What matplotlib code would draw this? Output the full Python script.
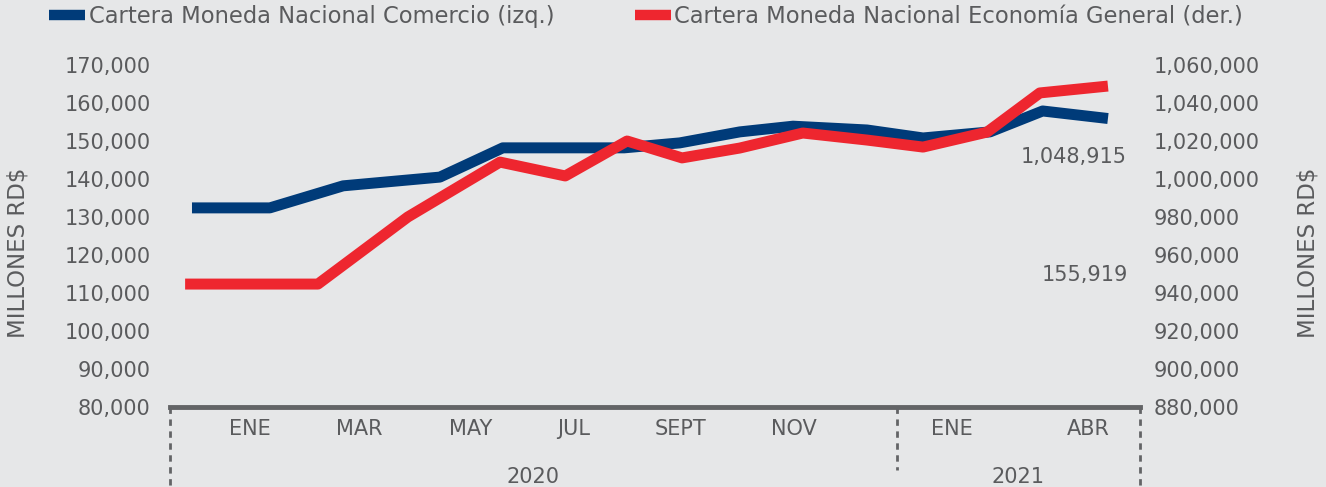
import matplotlib.pyplot as plt
from matplotlib.lines import Line2D
import matplotlib.transforms as mtransforms

# datos (posicion en meses desde dic-2019, millones RD$)
com_x = [0, 1.36, 2.64, 4.33, 5.43, 7.55, 8.52, 9.57, 10.5, 11.79, 12.77, 13.94, 14.86, 16]
com_y = [132400, 132400, 138200, 140500, 148200, 148200, 149500, 152400, 153900, 152900, 150800, 152400, 157900, 155919]

eco_x = [-0.12, 2.2, 3.77, 5.38, 6.52, 7.6, 8.56, 9.57, 10.67, 11.79, 12.77, 13.89, 14.81, 16]
eco_y = [944700, 944700, 980000, 1008900, 1001600, 1020000, 1011100, 1016300, 1024200, 1020500, 1016800, 1024700, 1045300, 1048915]

mes_labels = ['ENE', 'MAR', 'MAY', 'JUL', 'SEPT', 'NOV', 'ENE', 'ABR']
mes_pos = [1.01, 2.93, 4.86, 6.66, 8.54, 10.52, 13.28, 15.65]
anio_labels = ['2020', '2021']
anio_pos = [5.96, 14.43]
separadores = [-0.384, 12.31, 16.56]

etiqueta_com = '155,919'
etiqueta_eco = '1,048,915'

BG = '#E6E7E8'
GRIS = '#5A5B5D'
AZUL = '#003B79'
ROJO = '#EE262F'

plt.rcParams['font.family'] = ['DejaVu Sans']

fig = plt.figure(figsize=(13.26, 4.87), dpi=100, facecolor=BG)
ax = fig.add_axes([170 / 1326, 80 / 487, 970 / 1326, 342 / 487])
ax.set_facecolor(BG)
ax2 = ax.twinx()

l1, = ax.plot(com_x, com_y, color=AZUL, lw=7.9, solid_capstyle='butt', solid_joinstyle='round')
l2, = ax2.plot(eco_x, eco_y, color=ROJO, lw=7.9, solid_capstyle='butt', solid_joinstyle='round')

ax.set_xlim(separadores[0], separadores[-1])
ax.set_ylim(80000, 170000)
ax2.set_ylim(880000, 1060000)
ax.set_yticks(range(80000, 170001, 10000))
ax2.set_yticks(range(880000, 1060001, 20000))
ax.set_yticklabels(['{:,}'.format(v) for v in range(80000, 170001, 10000)])
ax2.set_yticklabels(['{:,}'.format(v) for v in range(880000, 1060001, 20000)])
ax.tick_params(axis='y', length=0, pad=14, labelsize=15, labelcolor=GRIS)
ax2.tick_params(axis='y', length=0, pad=10, labelsize=15, labelcolor=GRIS)
ax.set_xticks([])

for a in (ax, ax2):
    for s in ['top', 'left', 'right', 'bottom']:
        a.spines[s].set_visible(False)
# eje x
ax.spines['bottom'].set_visible(True)
ax.spines['bottom'].set_color('#636466')
ax.spines['bottom'].set_linewidth(3.5)

# titulos de ejes y
fig.text(18 / 1326, 1 - 253 / 487, 'MILLONES RD$', rotation=90, ha='center', va='center',
         fontsize=16.5, color=GRIS)
fig.text(1308 / 1326, 1 - 253 / 487, 'MILLONES RD$', rotation=90, ha='center', va='center',
         fontsize=16.5, color=GRIS)

# etiquetas de categorias (meses y anios)
trans = mtransforms.blended_transform_factory(ax.transData, ax.transAxes)
for lab, p in zip(mes_labels, mes_pos):
    ax.text(p, -0.064, lab, transform=trans, ha='center', va='center', fontsize=15, color=GRIS)
for lab, p in zip(anio_labels, anio_pos):
    ax.text(p, -0.205, lab, transform=trans, ha='center', va='center', fontsize=15, color=GRIS)

# lineas punteadas entre grupos
for sep, fin in zip(separadores, [-0.24, -0.185, -0.24]):
    ax.plot([sep, sep], [0, fin], transform=trans, color='#636466', lw=2,
            ls=(0, (2.3, 2.0)), clip_on=False)

# etiquetas de datos
ax.text(1127 / 1326, 1 - 157 / 487, etiqueta_eco, transform=fig.transFigure, ha='right',
        va='center', fontsize=15, color=GRIS)
ax.text(1128 / 1326, 1 - 275 / 487, etiqueta_com, transform=fig.transFigure, ha='right',
        va='center', fontsize=15, color=GRIS)

h1 = Line2D([], [], color=AZUL, lw=7.5, solid_capstyle='butt')
h2 = Line2D([], [], color=ROJO, lw=7.5, solid_capstyle='butt')
fig.legend([h1, h2], ['Cartera Moneda Nacional Comercio (izq.)',
                      'Cartera Moneda Nacional Economía General (der.)'],
           loc='upper left', bbox_to_anchor=(49 / 1326, 1 - 5 / 487), ncol=2, frameon=False,
           fontsize=16.3, labelcolor=GRIS, handlelength=1.6, handletextpad=0.15,
           columnspacing=3.55, borderpad=0, borderaxespad=0)

fig.savefig('out.png', dpi=100, facecolor=BG)
